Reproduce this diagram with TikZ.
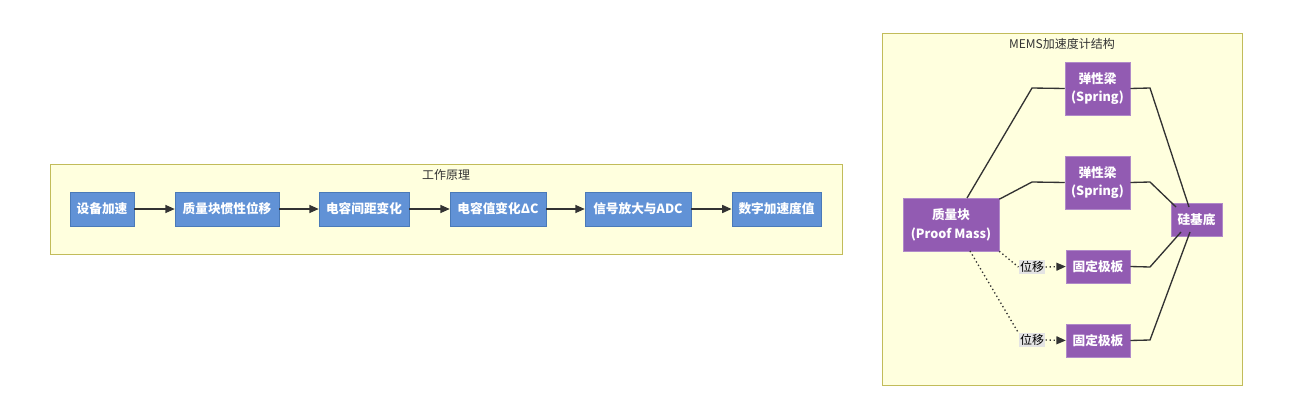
\documentclass[tikz,border=0pt]{standalone}
\usepackage{fontspec}
\setmainfont{Noto Sans CJK SC}
\usetikzlibrary{arrows.meta}
\definecolor{frm}{HTML}{FFFFDE}
\definecolor{frmd}{HTML}{C2BC5A}
\definecolor{blu}{HTML}{6192D6}
\definecolor{blud}{HTML}{4A7AB8}
\definecolor{pur}{HTML}{925BB2}
\definecolor{purd}{HTML}{B08AC8}
\definecolor{lbl}{HTML}{E4E4E4}
\begin{document}
\begin{tikzpicture}[x=0.75pt,y=-0.75pt,
 frame/.style={draw=frmd,fill=frm,line width=0.6pt},
 bb/.style={draw=blud,fill=blu,text=white,font=\bfseries\fontsize{9.5}{11}\selectfont,minimum height=25.5pt,inner sep=0pt},
 pb/.style={draw=purd,fill=pur,text=white,font=\bfseries\fontsize{9.5}{14}\selectfont,align=center,inner sep=0pt},
 ttl/.style={font=\fontsize{9}{11}\selectfont,text=black!80},
 ar/.style={-{Triangle[length=7pt,width=6pt]},line width=1pt,draw=black!80},
 ln/.style={line width=1pt,draw=black!80},
 dt/.style={line width=1pt,draw=black!80,dotted},
 lb/.style={fill=lbl,font=\fontsize{9}{11}\selectfont,inner sep=1pt}]
\useasboundingbox (0,0) rectangle (1292,407);
\draw[frame] (50,164) rectangle (842,254);
\node[ttl] (t1) at (446,175) {工作原理};
\node[bb,minimum width=48pt] (a) at (102,209) {设备加速};
\node[bb,minimum width=78pt] (b) at (227,209) {质量块惯性位移};
\node[bb,minimum width=67.5pt] (c) at (364,209) {电容间距变化};
\node[bb,minimum width=72pt] (d) at (498,209) {电容值变化ΔC};
\node[bb,minimum width=79.5pt] (e) at (638,209) {信号放大与ADC};
\node[bb,minimum width=67pt] (f) at (776.5,209) {数字加速度值};
\draw[ar] (a) -- (b); \draw[ar] (b) -- (c); \draw[ar] (c) -- (d);
\draw[ar] (d) -- (e); \draw[ar] (e) -- (f);
\draw[frame] (882,33) rectangle (1242,385);
\node[ttl] (t2) at (1062,44) {MEMS加速度计结构};
\node[pb,minimum width=48.75pt,minimum height=39.75pt] (s1) at (1097.5,88.5) {弹性梁\\(Spring)};
\node[pb,minimum width=48.75pt,minimum height=39.75pt] (s2) at (1097.5,182.5) {弹性梁\\(Spring)};
\node[pb,minimum width=72pt,minimum height=39.75pt] (m) at (951,224.5) {质量块\\(Proof Mass)};
\node[pb,minimum width=38.25pt,minimum height=24.75pt] (g) at (1196.5,219.5) {硅基底};
\node[pb,minimum width=48pt,minimum height=24.75pt] (p1) at (1098,266.5) {固定极板};
\node[pb,minimum width=48pt,minimum height=24.75pt] (p2) at (1098,340.5) {固定极板};
\coordinate (mt) at (967,198);
\draw[ln] (mt) -- (1032,88) -- (s1.west);
\draw[ln] (m.north east) ++(0,1.5) -- (1032,182) -- (s2.west);
\draw[ln] (s1.east) -- (1150,88) -- (1189,207);
\draw[ln] (s2.east) -- (1150,182) -- (1176,207);
\draw[ln] (p1.east) -- (1150,267) -- (1181,232);
\draw[ln] (p2.east) -- (1150,340) -- (1190,232);
\node[lb] (l1) at (1032,267) {位移};
\node[lb] (l2) at (1032,340) {位移};
\draw[dt] (m.south east) -- (l1.west);
\draw[dt] (970,251) -- (l2.north west);
\draw[dt,-{Triangle[length=7pt,width=6pt]}] (l1.east) -- (p1.west);
\draw[dt,-{Triangle[length=7pt,width=6pt]}] (l2.east) -- (p2.west);
\end{tikzpicture}
\end{document}
